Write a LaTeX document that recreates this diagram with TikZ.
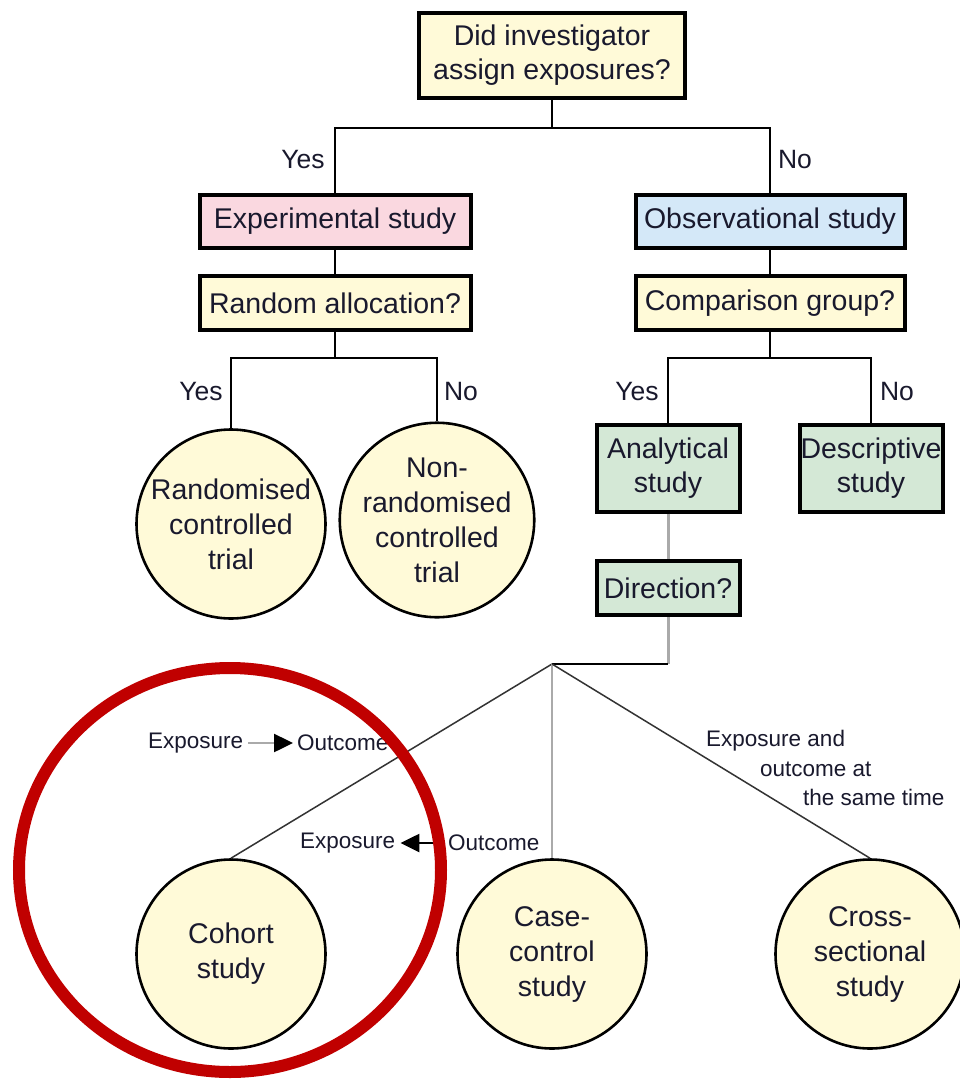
\documentclass[tikz,border=0pt]{standalone}
\usepackage{fontspec}
\setmainfont{Liberation Sans}
\usetikzlibrary{arrows.meta}
\definecolor{qyellow}{RGB}{255,250,216}
\definecolor{qpink}{RGB}{250,216,224}
\definecolor{qblue}{RGB}{212,232,248}
\definecolor{qgreen}{RGB}{212,232,214}
\definecolor{txt}{RGB}{25,25,45}
\definecolor{annred}{RGB}{192,0,0}
\definecolor{lgray}{RGB}{170,170,170}
\tikzset{
  sqbox/.style={draw=black, line width=4pt, rectangle, inner sep=0pt, align=center,
    text=txt, font=\fontsize{28.5}{34}\selectfont},
  circ/.style={draw=black, line width=2.6pt, circle, fill=qyellow, inner sep=0pt,
    minimum size=189pt, align=center, text=txt, font=\fontsize{28.5}{35}\selectfont},
  conn/.style={draw=black, line width=2pt},
  thinconn/.style={draw=black!80, line width=1.5pt},
  grayconn/.style={draw=lgray, line width=3pt},
  yn/.style={text=txt, font=\fontsize{26.5}{30}\selectfont, inner sep=0pt},
  small/.style={text=txt, font=\fontsize{22.5}{29.5}\selectfont, inner sep=0pt},
  dirtip/.style={-{Triangle[length=19pt,width=18pt,color=black,fill=black]}},
}
\begin{document}
\begin{tikzpicture}[x=1pt,y=-1pt]
\useasboundingbox (0,0) rectangle (959,1079);
\fill[white] (0,0) rectangle (959,1079);

% boxes
\node[sqbox, fill=qyellow, minimum width=266pt, minimum height=85pt] (top) at (552,55) {Did investigator\\assign exposures?};
\node[sqbox, fill=qpink, minimum width=271pt, minimum height=53pt] (exp) at (335,221) {Experimental study};
\node[sqbox, fill=qblue, minimum width=269pt, minimum height=53pt] (obs) at (770,221) {Observational study};
\node[sqbox, fill=qyellow, minimum width=271pt, minimum height=54pt] (ra) at (335,303) {Random allocation?};
\node[sqbox, fill=qyellow, minimum width=269pt, minimum height=54pt] (cg) at (770,303) {Comparison group?};
\node[sqbox, fill=qgreen, minimum width=143pt, minimum height=87pt] (ana) at (668,468) {Analytical\\study};
\node[sqbox, fill=qgreen, minimum width=143pt, minimum height=87pt] (des) at (871,468) {Descriptive\\study};
\node[sqbox, fill=qgreen, minimum width=143pt, minimum height=54pt] (dir) at (668,588) {Direction?};

% circles
\node[circ] (rct) at (231,524) {Randomised\\controlled\\trial};
\node[circ] (nrct) at (437,520) {Non-\\randomised\\controlled\\trial};
\node[circ] (coh) at (231,954) {Cohort\\study};
\node[circ] (cc) at (552,954) {Case-\\control\\study};
\node[circ] (cs) at (870,954) {Cross-\\sectional\\study};

% junctions
\coordinate (j1) at (552,128);
\coordinate (j2) at (335,358);
\coordinate (j3) at (770,358);
\coordinate (br) at (552,664);

% connectors
\draw[conn] (top.south) -- (j1);
\draw[conn] (exp.north) |- (j1) -| (obs.north);
\draw[conn] (exp.south) -- (ra.north);
\draw[conn] (obs.south) -- (cg.north);
\draw[conn] (ra.south) -- (j2);
\draw[conn] (rct.north) |- (j2) -| (nrct.north);
\draw[conn] (cg.south) -- (j3);
\draw[conn] (ana.north) |- (j3) -| (des.north);
\draw[grayconn] (ana.south) -- (dir.north);
\draw[grayconn] (dir.south) -- (dir.south |- br);
\draw[conn] (dir.south |- br) -- (br);
\draw[thinconn] (br) -- (coh.north);
\draw[grayconn, line width=2.5pt] (br) -- (cc.north);
\draw[thinconn] (br) -- (cs.north);

% yes / no labels
\node[yn] (y1) at (303,160) {Yes};
\node[yn] (n1) at (795,160) {No};
\node[yn] (y2) at (201,392) {Yes};
\node[yn] (n2) at (461,392) {No};
\node[yn] (y3) at (637,392) {Yes};
\node[yn] (n3) at (897,392) {No};

% direction labels
\node[small, anchor=west] (e1) at (148,743) {Exposure};
\node[small, anchor=west] (o1) at (297,743) {Outcome};
\draw[draw=lgray, line width=2.5pt, dirtip] ([xshift=5pt]e1.east) -- ([xshift=-4pt]o1.west);
\node[small, anchor=west] (e2) at (300,843) {Exposure};
\node[small, anchor=west] (o2) at (448,843) {Outcome};
\draw[draw=black, line width=2.5pt, dirtip] ([xshift=-4pt]o2.west) -- ([xshift=5pt]e2.east);
\node[small, anchor=north west, align=left] (same) at (706,730) {Exposure and\\\hspace*{54pt}outcome at\\\hspace*{97pt}the same time};

% annotation
\draw[annred, line width=12pt] (230,870) ellipse [x radius=211, y radius=202];
\end{tikzpicture}
\end{document}
